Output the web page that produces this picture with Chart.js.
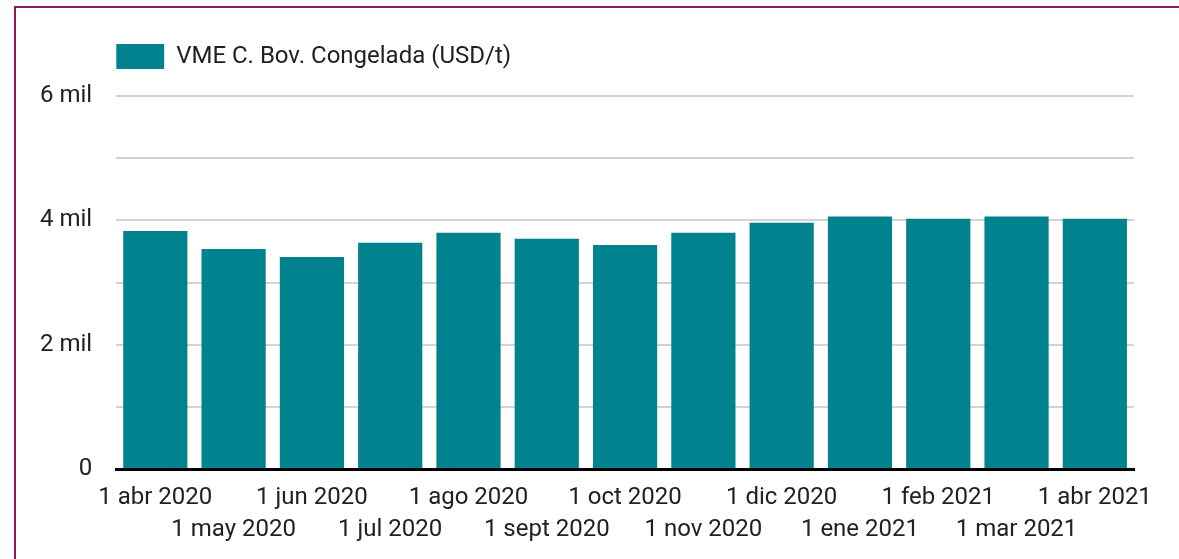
<!DOCTYPE html>
<html>
<head>
<meta charset="utf-8">
<script src="https://cdn.jsdelivr.net/npm/chart.js@4"></script>
<style>
  body { margin: 0; background: #fff; }
  #frame { position: absolute; left: 14px; top: 6px; width: 1200px; height: 600px;
           border-left: 2px solid #8b1a5b; border-top: 2px solid #8b1a5b; }
  #wrap { position: absolute; left: 0; top: 0; width: 1179px; height: 559px; }
</style>
</head>
<body>
<div id="frame"></div>
<div id="wrap"><canvas id="vmechart"></canvas></div>
<script>
const months = [
  '1 abr 2020', '1 may 2020', '1 jun 2020', '1 jul 2020', '1 ago 2020', '1 sept 2020',
  '1 oct 2020', '1 nov 2020', '1 dic 2020', '1 ene 2021', '1 feb 2021', '1 mar 2021', '1 abr 2021'
]
const vmeValues = [ 3830, 3540, 3410, 3640, 3800, 3705, 3605, 3800, 3960, 4060, 4025, 4060, 4025 ]
const yTicks = [ 0, 2000, 4000, 6000 ]
const yTickLabels = [ '0', '2 mil', '4 mil', '6 mil' ]

// push the plot down under the legend
const legendGap = {
  id: 'legendGap',
  beforeInit(chart) {
    const fit = chart.legend.fit
    chart.legend.fit = function () {
      fit.bind(chart.legend)()
      this.height += 17
    }
  }
}

const data = {
  labels: months,
  datasets: [{
    label: 'VME C. Bov. Congelada (USD/t)',
    data: vmeValues,
    backgroundColor: '#00838f',
    borderWidth: 0,
    barPercentage: 0.82,
    categoryPercentage: 1
  }]
}

const config = {
  type: 'bar',
  data: data,
  plugins: [ legendGap ],
  options: {
    responsive: true,
    maintainAspectRatio: false,
    animation: false,
    layout: { padding: { left: 16, top: 44, right: 45, bottom: 0 } },
    plugins: {
      tooltip: { enabled: false },
      legend: {
        fullSize: false,
        align: 'start',
        labels: {
          boxWidth: 48,
          boxHeight: 25,
          padding: 0,
          color: '#212121',
          font: { family: 'Roboto', size: 24 }
        }
      }
    },
    scales: {
      x: {
        grid: { display: false, drawTicks: false },
        border: { display: true, color: '#000', width: 3 },
        ticks: {
          autoSkip: false,
          maxRotation: 0,
          minRotation: 0,
          padding: 13,
          color: '#212121',
          font: { family: 'Roboto', size: 24, lineHeight: 32 / 24 },
          callback: (value, index) => index % 2 === 0 ? months[index] : [ '', months[index] ]
        }
      },
      y: {
        min: 0,
        max: 6000,
        border: { display: false },
        grid: {
          drawTicks: false,
          lineWidth: 2,
          color: (ctx) => ctx.tick && ctx.tick.value === 0 ? 'rgba(0,0,0,0)' : '#d3d3d3'
        },
        ticks: {
          stepSize: 1000,
          padding: 24,
          color: '#212121',
          font: { family: 'Roboto', size: 24 },
          callback: (value) => {
            const i = yTicks.indexOf(value)
            return i === -1 ? '' : yTickLabels[i]
          }
        }
      }
    }
  }
}

const myChart = new Chart(document.getElementById('vmechart'), config)
</script>
</body>
</html>
